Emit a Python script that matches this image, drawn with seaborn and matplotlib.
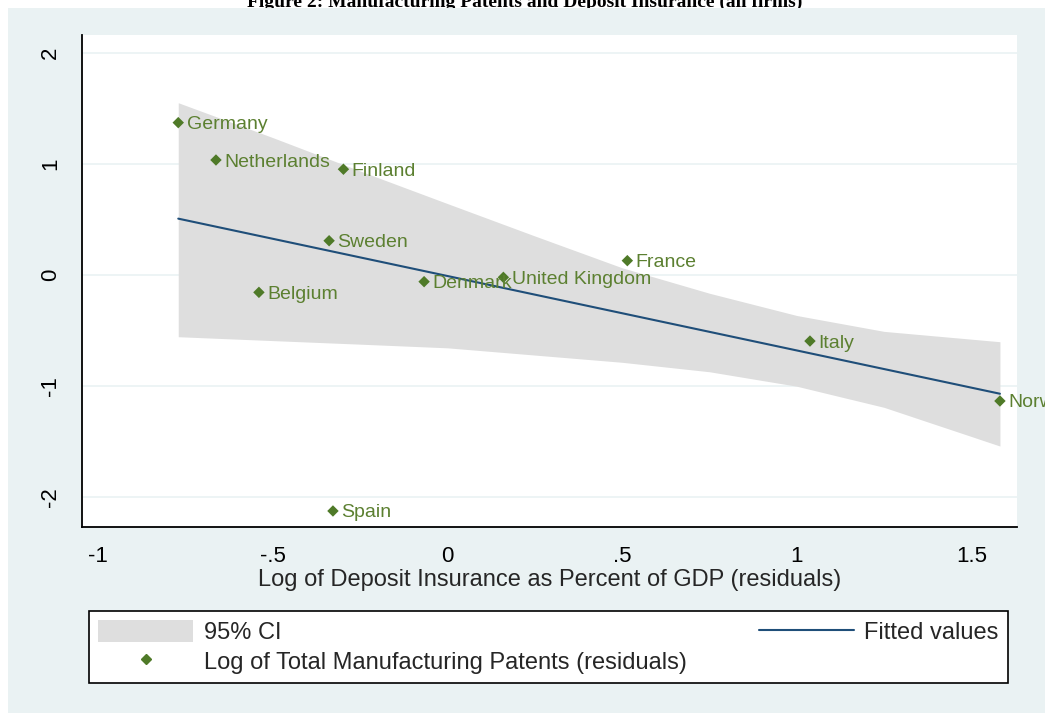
import numpy as np
import pandas as pd
import seaborn as sns
import matplotlib
matplotlib.use("Agg")
import matplotlib.pyplot as plt
from matplotlib.patches import Rectangle, Patch
from matplotlib.lines import Line2D

# data
countries = ["Germany", "Netherlands", "Finland", "Sweden", "Belgium", "Denmark",
             "United Kingdom", "France", "Italy", "Norway", "Spain"]
deposit_resid = [-0.771, -0.663, -0.298, -0.339, -0.540, -0.067,
                 0.160, 0.515, 1.038, 1.582, -0.328]
patents_resid = [1.370, 1.034, 0.951, 0.308, -0.156, -0.060,
                 -0.021, 0.129, -0.594, -1.133, -2.122]

# 95% CI band edges
ci_x = [-0.771, -0.5, -0.25, 0.0, 0.25, 0.5, 0.75, 1.0, 1.25, 1.582]
ci_upper = [1.549, 1.235, 0.935, 0.642, 0.351, 0.065, -0.164, -0.364, -0.507, -0.600]
ci_lower = [-0.555, -0.590, -0.622, -0.655, -0.720, -0.785, -0.870, -1.000, -1.190, -1.538]

xticks = [-1, -0.5, 0, 0.5, 1, 1.5]
xtick_labels = ["-1", "-.5", "0", ".5", "1", "1.5"]
yticks = [-2, -1, 0, 1, 2]
ytick_labels = ["-2", "-1", "0", "1", "2"]

title = "Figure 2: Manufacturing Patents and Deposit Insurance (all firms)"
xlabel = "Log of Deposit Insurance as Percent of GDP (residuals)"
legend_labels = ["95% CI", "Log of Total Manufacturing Patents (residuals)", "Fitted values"]

# colours
BG = "#EAF2F3"
GREEN = "#4F7A28"
LABEL_GREEN = "#5C8031"
NAVY = "#1F4E79"
BAND = "#DEDEDE"

sns.set_theme(style="white")
plt.rcParams["font.family"] = ["Liberation Sans", "DejaVu Sans"]

W, H = 1045, 715
fig = plt.figure(figsize=(W / 100, H / 100), dpi=100, facecolor="white")

# title sits above the graph region and is partly hidden by it
fig.text(0.502, 1 - 7 / H, title, ha="center", va="baseline",
         family=["Liberation Serif", "DejaVu Serif"], weight="bold",
         fontsize=14, color="black", zorder=-2)
fig.patches.append(Rectangle((8 / W, 2 / H), (W - 8) / W, 705 / H,
                             transform=fig.transFigure, facecolor=BG,
                             edgecolor="none", zorder=-1))

ax = fig.add_axes([81.7 / W, 1 - 527 / H, (1016.7 - 81.7) / W, (527 - 35) / H])
ax.set_facecolor("white")

df = pd.DataFrame({"country": countries, "x": deposit_resid, "y": patents_resid})

# confidence band
ax.fill_between(ci_x, ci_lower, ci_upper, color=BAND, lw=0, zorder=1)

# fitted line
slope, intercept = np.polyfit(df["x"], df["y"], 1)
fit = pd.DataFrame({"x": [df["x"].min(), df["x"].max()]})
fit["y"] = intercept + slope * fit["x"]
sns.lineplot(data=fit, x="x", y="y", color=NAVY, lw=1.5, ax=ax, zorder=2)

# points and labels
sns.scatterplot(data=df, x="x", y="y", marker="D", s=34, color=GREEN,
                edgecolor="none", linewidth=0, ax=ax, zorder=3, legend=False)
for _, row in df.iterrows():
    ax.annotate(row["country"], (row["x"], row["y"]), xytext=(6, 0),
                textcoords="offset points", ha="left", va="center_baseline",
                color=LABEL_GREEN, fontsize=14, zorder=4, annotation_clip=False)

ax.set_xlim(-1.0475, 1.630)
ax.set_ylim(-2.266, 2.158)
ax.set_xticks(xticks)
ax.set_xticklabels(xtick_labels)
ax.set_yticks(yticks)
ax.set_yticklabels(ytick_labels, rotation=90, va="center")
ax.tick_params(axis="both", direction="out", length=7, width=1.1, color="black",
               labelsize=16, labelcolor="black")
ax.tick_params(axis="x", pad=7)
ax.tick_params(axis="y", pad=8)
ax.set_xlabel(xlabel, fontsize=17, labelpad=1)
ax.set_ylabel("")

ax.yaxis.grid(True, color=BG, lw=1.2)
ax.xaxis.grid(False)
ax.set_axisbelow(True)
for side in ["top", "right"]:
    ax.spines[side].set_visible(False)
for side in ["left", "bottom"]:
    ax.spines[side].set_color("black")
    ax.spines[side].set_linewidth(1.3)

handles = [
    Patch(facecolor=BAND, edgecolor="none", label=legend_labels[0]),
    Line2D([], [], marker="D", ls="none", color=GREEN, markersize=5.5, label=legend_labels[1]),
    Line2D([], [], color=NAVY, lw=1.5, label=legend_labels[2]),
]
leg = fig.legend(handles=handles, ncol=2, mode="expand", loc="center",
                 bbox_to_anchor=(89 / W, 1 - 687 / H, 919 / W, 80 / H),
                 frameon=True, fancybox=False, edgecolor="black", facecolor="white",
                 fontsize=17, handlelength=4.0, handleheight=1.05, handletextpad=0.45,
                 labelspacing=0.25, borderaxespad=0, borderpad=0.4, framealpha=1)
leg.get_frame().set_linewidth(1.2)
leg.set_zorder(5)

fig.savefig("out.png", dpi=100, facecolor=fig.get_facecolor())
